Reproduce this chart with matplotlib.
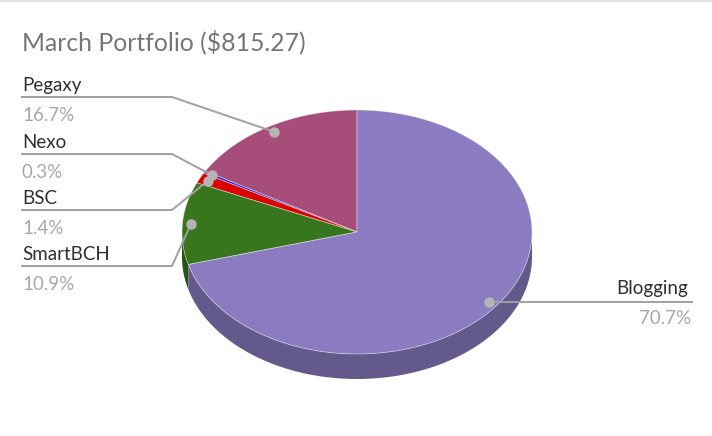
import numpy as np
import matplotlib
matplotlib.use("Agg")
import matplotlib.pyplot as plt
from matplotlib.patches import Polygon, Rectangle
from matplotlib.colors import to_rgb

# Données du graphique
title = "March Portfolio ($815.27)"
labels = ["Pegaxy", "Nexo", "BSC", "SmartBCH", "Blogging"]
values = [16.7, 0.3, 1.4, 10.9, 70.7]
colors = ["#A64D79", "#2020E0", "#DD0000", "#38761D", "#8B7CC1"]

plt.rcParams['font.family'] = ['Lato', 'DejaVu Sans']

fig = plt.figure(figsize=(7.12, 4.36), dpi=100)
ax = fig.add_axes([0, 0, 1, 1])
ax.set_xlim(0, 712)
ax.set_ylim(436, 0)
ax.axis("off")

# Bande grise en haut
ax.add_patch(Rectangle((0, 0), 712, 2.5, color="#E3E3E3", lw=0))

# Géométrie de la tarte "3D" (ellipse aplatie)
cx, cy = 357, 232
a, b = 175, 122
depth = 25


def pt(theta_deg, r=1.0, dy=0.0):
    t = np.radians(theta_deg)
    return cx - r * a * np.sin(t), cy - r * b * np.cos(t) + dy


def darker(c, f=0.72):
    return tuple(v * f for v in to_rgb(c))


total = sum(values)
bounds = np.cumsum([0] + values) / total * 360.0

# Côtés visibles (moitié avant)
for i, col in enumerate(colors):
    t1, t2 = max(bounds[i], 90), min(bounds[i + 1], 270)
    if t2 <= t1:
        continue
    th = np.linspace(t1, t2, 120)
    top = [pt(t) for t in th]
    bot = [pt(t, dy=depth) for t in th[::-1]]
    ax.add_patch(Polygon(top + bot, closed=True, facecolor=darker(col),
                         edgecolor="none", zorder=1))

# Dessus des parts
for i, col in enumerate(colors):
    th = np.linspace(bounds[i], bounds[i + 1], max(4, int(values[i] * 4)))
    verts = [(cx, cy)] + [pt(t) for t in th]
    ax.add_patch(Polygon(verts, closed=True, facecolor=col,
                         edgecolor=(1, 1, 1, 0.45), lw=0.6, zorder=2))

ax.text(22, 50, title, fontsize=17.8, color="#767676", va="baseline", ha="left")

# Étiquettes et lignes de rappel
line_col = "#A0A0A0"
name_col = "#2E2E2E"
pct_col = "#A8A8A8"
left_rows = [97, 154, 210, 266]
for i in range(4):
    mid = (bounds[i] + bounds[i + 1]) / 2
    dx, dyy = pt(mid, r=0.95)
    y = left_rows[i]
    ax.plot([22, 172, dx], [y, y, dyy], color=line_col, lw=1.4, zorder=3)
    ax.plot(dx, dyy, "o", ms=6.5, color="#B5B5B5", zorder=4)
    ax.text(22, y - 6.5, labels[i], fontsize=13.5, color=name_col, va="baseline")
    ax.text(22, y + 24, f"{values[i]}%", fontsize=13.5, color=pct_col, va="baseline")

mid = (bounds[4] + bounds[5]) / 2
dx, dyy = pt(mid, r=0.95)
ax.plot([dx, 692], [dyy, dyy], color=line_col, lw=1.4, zorder=3)
ax.plot(dx, dyy, "o", ms=6.5, color="#B5B5B5", zorder=4)
ax.text(688, dyy - 8, labels[4], fontsize=13.5, color=name_col, va="baseline", ha="right")
ax.text(691, dyy + 22, f"{values[4]}%", fontsize=13.5, color=pct_col, va="baseline", ha="right")

fig.savefig("out.png", dpi=100, facecolor="white")
